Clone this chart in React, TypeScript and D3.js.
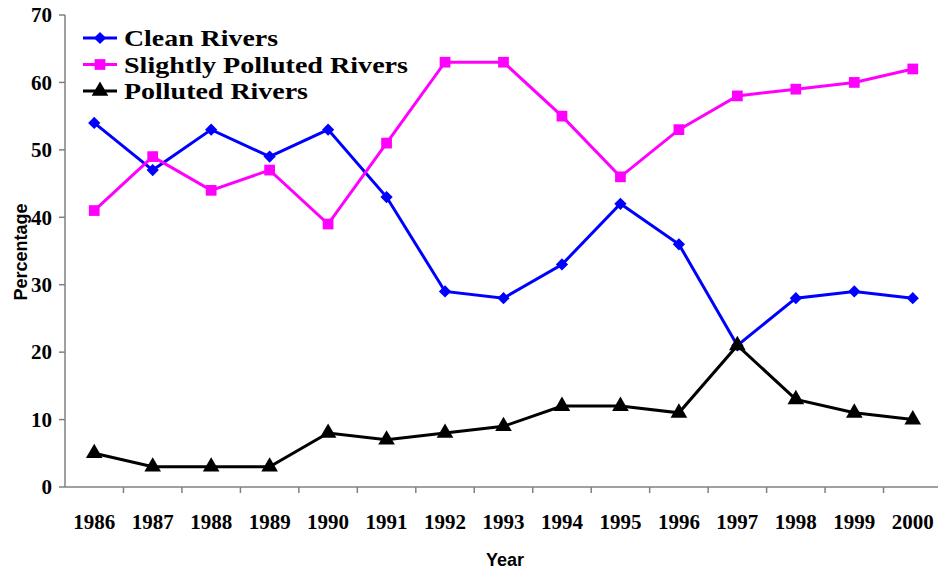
import React from 'react';
import * as d3 from 'd3';

const years = ['1986', '1987', '1988', '1989', '1990', '1991', '1992', '1993', '1994', '1995', '1996', '1997', '1998', '1999', '2000'];
const cleanRivers = [54, 47, 53, 49, 53, 43, 29, 28, 33, 42, 36, 21, 28, 29, 28];
const slightlyPolluted = [41, 49, 44, 47, 39, 51, 63, 63, 55, 46, 53, 58, 59, 60, 62];
const pollutedRivers = [5, 3, 3, 3, 8, 7, 8, 9, 12, 12, 11, 21, 13, 11, 10];
const yTicks = [0, 10, 20, 30, 40, 50, 60, 70];

const series = [
  { name: 'Clean Rivers', values: cleanRivers, color: '#0000ff', symbol: d3.symbolSquare, size: 75, rotate: 45, textLen: 154 },
  { name: 'Slightly Polluted Rivers', values: slightlyPolluted, color: '#ff00ff', symbol: d3.symbolSquare, size: 115, rotate: 0, textLen: 284 },
  { name: 'Polluted Rivers', values: pollutedRivers, color: '#000000', symbol: d3.symbolTriangle, size: 120, rotate: 0, textLen: 184 },
];

const W = 938;
const H = 570;
const left = 65;
const right = 942;
const top = 15;
const bottom = 487;

export default function App() {
  const x = d3.scaleBand<string>().domain(years).range([left, right]);
  const y = d3.scaleLinear().domain([0, 70]).range([bottom, top]);
  const line = d3.line<number>()
    .x((_, i) => (x(years[i]) as number) + x.bandwidth() / 2)
    .y(d => y(d));
  const serif = '"Liberation Serif", "Times New Roman", serif';
  const sans = '"Liberation Sans", Arial, sans-serif';
  const axisColor = '#808080';

  return (
    <svg width={W} height={H} style={{ position: 'absolute', left: 0, top: 0, background: '#fff' }}>
      {/* y axis */}
      <line x1={left} x2={left} y1={top} y2={bottom} stroke={axisColor} strokeWidth={1.5} />
      {yTicks.map(t => (
        <g key={t}>
          <line x1={left - 6} x2={left} y1={y(t)} y2={y(t)} stroke={axisColor} strokeWidth={1.5} />
          <text x={left - 13} y={y(t)} dy="0.35em" textAnchor="end" fontFamily={serif} fontWeight="bold" fontSize={21}>{t}</text>
        </g>
      ))}
      {/* x axis */}
      <line x1={left} x2={right} y1={bottom} y2={bottom} stroke={axisColor} strokeWidth={1.5} />
      {years.map((yr, i) => (
        <g key={yr}>
          <line x1={(x(yr) as number) + x.bandwidth()} x2={(x(yr) as number) + x.bandwidth()} y1={bottom} y2={bottom + 6} stroke={axisColor} strokeWidth={1.5} />
          <text x={(x(yr) as number) + x.bandwidth() / 2} y={529} textAnchor="middle" fontFamily={serif} fontWeight="bold" fontSize={21}>{yr}</text>
        </g>
      ))}
      <text x={505} y={566} textAnchor="middle" fontFamily={sans} fontWeight="bold" fontSize={18}>Year</text>
      <text transform="translate(27,252) rotate(-90)" textAnchor="middle" fontFamily={sans} fontWeight="bold" fontSize={18}>Percentage</text>

      {/* series */}
      {series.map(s => (
        <g key={s.name}>
          <path d={line(s.values) as string} fill="none" stroke={s.color} strokeWidth={3} />
          {s.values.map((v, i) => (
            <path key={i}
              transform={`translate(${(x(years[i]) as number) + x.bandwidth() / 2},${y(v)}) rotate(${s.rotate})`}
              d={d3.symbol().type(s.symbol).size(s.size)() as string}
              fill={s.color} />
          ))}
        </g>
      ))}

      {/* legend */}
      {series.map((s, i) => {
        const ly = 38 + i * 26.5;
        return (
          <g key={s.name}>
            <line x1={83} x2={117} y1={ly} y2={ly} stroke={s.color} strokeWidth={3} />
            <path transform={`translate(100,${ly}) rotate(${s.rotate})`} d={d3.symbol().type(s.symbol).size(s.size)() as string} fill={s.color} />
            <text x={124} y={ly} dy="0.35em" fontFamily={serif} fontWeight="bold" fontSize={24}
              textLength={s.textLen} lengthAdjust="spacingAndGlyphs">{s.name}</text>
          </g>
        );
      })}
    </svg>
  );
}
